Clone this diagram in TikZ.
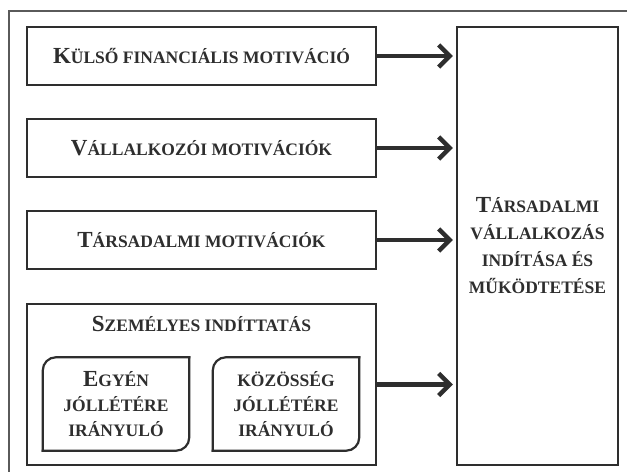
\documentclass[tikz,border=0pt]{standalone}
\usepackage{fontspec}
\setmainfont{Liberation Serif}
\usetikzlibrary{arrows.meta}
\definecolor{ink}{HTML}{2E2E2E}
\definecolor{frame}{HTML}{5A5A5A}
\newcommand\capbig[1]{{\fontsize{23bp}{27bp}\selectfont #1}}
\tikzset{
  boxline/.style={draw=ink, line width=2.2bp},
  labelfont/.style={text=ink, font={\bfseries\fontsize{17.5bp}{27bp}\selectfont}, align=center},
  stepbox/.style={boxline, rectangle, minimum width=349bp, minimum height=58bp, inner sep=0pt, labelfont},
  innerbox/.style={rectangle, minimum width=146bp, minimum height=93bp, inner sep=0pt, labelfont,
     font={\bfseries\fontsize{17.5bp}{25bp}\selectfont}},
  arr/.style={draw=ink, line width=4.5bp, -{Straight Barb[length=11bp, width=22bp]}, shorten >=3bp}
}
\begin{document}
\begin{tikzpicture}[x=1bp, y=-1bp]
\useasboundingbox (0,0) rectangle (627,472);
\fill[white] (0,0) rectangle (627,472);
% outer frame (cut off)
\coordinate (fbl) at (9,472);
\coordinate (ftl) at (9,11);
\coordinate (ftr) at (627,11);
\draw[frame, line width=1.5bp] (fbl) -- (ftl) -- (ftr);

\node[stepbox] (k1) at (201.5,56) {\capbig{K}ÜLSŐ FINANCIÁLIS MOTIVÁCIÓ};
\node[stepbox] (k2) at (201.5,148) {\capbig{V}ÁLLALKOZÓI MOTIVÁCIÓK};
\node[stepbox] (k3) at (201.5,240) {\capbig{T}ÁRSADALMI MOTIVÁCIÓK};
\node[boxline, rectangle, minimum width=349bp, minimum height=161bp, inner sep=0pt] (pers) at (201.5,384.5) {};
\node[labelfont] (perst) at (201.5,324) {\capbig{S}ZEMÉLYES INDÍTTATÁS};

\node[innerbox] (egyen) at (116,404) {\capbig{E}GYÉN\\JÓLLÉTÉRE\\IRÁNYULÓ};
\node[innerbox] (kozos) at (286,404) {KÖZÖSSÉG\\JÓLLÉTÉRE\\IRÁNYULÓ};
\foreach \n in {egyen,kozos}{
  \draw[boxline, rounded corners=13bp, line cap=rect] (\n.north east) -- (\n.north west) -- (\n.south west);
  \draw[boxline, rounded corners=13bp, line cap=rect] (\n.south west) -- (\n.south east) -- (\n.north east);
}

\node[boxline, rectangle, minimum width=161bp, minimum height=438bp, inner sep=0pt, labelfont] (tar) at (537.5,246)
  {\capbig{T}ÁRSADALMI\\VÁLLALKOZÁS\\INDÍTÁSA ÉS\\MŰKÖDTETÉSE};

\foreach \n in {k1,k2,k3,pers}{
  \draw[arr] (\n.east) -- (\n.east -| tar.west);
}
\end{tikzpicture}
\end{document}
